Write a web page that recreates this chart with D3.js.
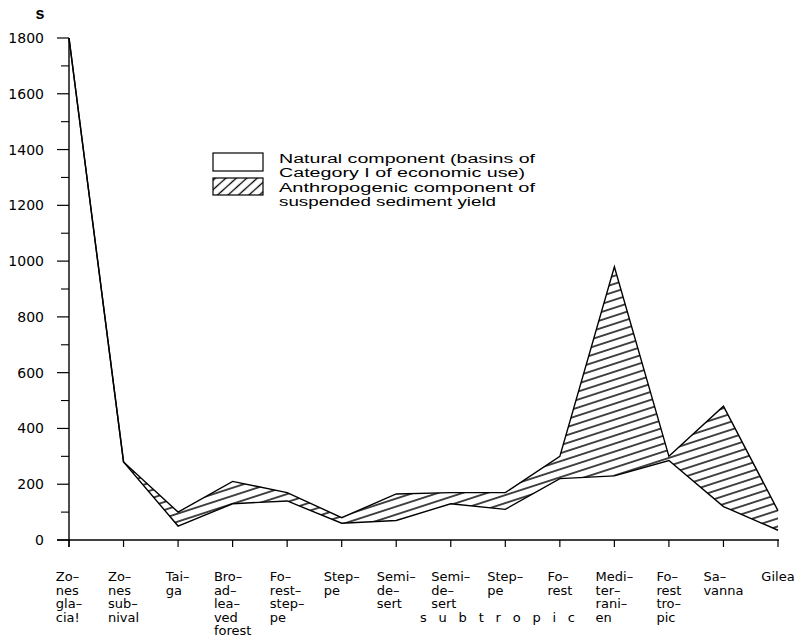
<!DOCTYPE html>
<html>
<head>
<meta charset="utf-8">
<script src="https://cdn.jsdelivr.net/npm/d3@7"></script>
<style>
  html, body { margin: 0; padding: 0; background: #fff; }
  svg { display: block; }
  text { fill: #000; }
</style>
</head>
<body>
<svg id="chart" width="810" height="643"></svg>
<script>
// Landscape zones (each label broken into hyphenated lines)
const zoneLabels = [
  ["Zo–", "nes", "gla–", "cia!"],
  ["Zo–", "nes", "sub–", "nival"],
  ["Tai–", "ga"],
  ["Bro–", "ad–", "lea–", "ved", "forest"],
  ["Fo–", "rest–", "step–", "pe"],
  ["Step–", "pe"],
  ["Semi–", "de–", "sert"],
  ["Semi–", "de–", "sert"],
  ["Step–", "pe"],
  ["Fo–", "rest"],
  ["Medi–", "ter–", "rani–", "en"],
  ["Fo–", "rest", "tro–", "pic"],
  ["Sa–", "vanna"],
  ["Gilea"]
];

// Suspended sediment yield: natural component and total (natural + anthropogenic)
const naturalYield = [1800, 280, 50, 130, 140, 60, 70, 130, 110, 220, 230, 285, 120, 35];
const totalYield   = [1800, 280, 100, 210, 170, 80, 165, 170, 170, 300, 980, 300, 480, 105];

const yMajorTicks = [0, 200, 400, 600, 800, 1000, 1200, 1400, 1600, 1800];
const yMinorTicks = [100, 300, 500, 700, 900, 1100, 1300, 1500, 1700];

const legendNatural = ["Natural component (basins of", "Category I of economic use)"];
const legendAnthro  = ["Anthropogenic component of", "suspended sediment yield"];
const groupLabel = "s u b t r o p i c";

const svg = d3.select("#chart");
const labelFont = "'DejaVu Sans', sans-serif";

const x = d3.scalePoint().domain(d3.range(zoneLabels.length)).range([69, 778]);
const y = d3.scaleLinear().domain([0, 1800]).range([540, 38]);

// Hatch patterns
const defs = svg.append("defs");
const hatch = defs.append("pattern")
  .attr("id", "hatch")
  .attr("patternUnits", "userSpaceOnUse")
  .attr("width", 40).attr("height", 7.6)
  .attr("patternTransform", "rotate(-18)");
hatch.append("line")
  .attr("x1", 0).attr("y1", 3.8).attr("x2", 40).attr("y2", 3.8)
  .attr("stroke", "#000").attr("stroke-width", 1.4);

const hatchLegend = defs.append("pattern")
  .attr("id", "hatchLegend")
  .attr("patternUnits", "userSpaceOnUse")
  .attr("width", 20).attr("height", 7)
  .attr("patternTransform", "rotate(-42)");
hatchLegend.append("line")
  .attr("x1", 0).attr("y1", 3.5).attr("x2", 20).attr("y2", 3.5)
  .attr("stroke", "#000").attr("stroke-width", 1.3);

// Anthropogenic band between the two curves
const band = d3.area()
  .x((d, i) => x(i))
  .y0((d, i) => y(naturalYield[i]))
  .y1((d, i) => y(totalYield[i]));
svg.append("path")
  .datum(totalYield)
  .attr("d", band)
  .attr("fill", "url(#hatch)")
  .attr("stroke", "none");

const line = d3.line().x((d, i) => x(i)).y(d => y(d));
[naturalYield, totalYield].forEach(series => {
  svg.append("path")
    .datum(series)
    .attr("d", line)
    .attr("fill", "none")
    .attr("stroke", "#000")
    .attr("stroke-width", 1.4)
    .attr("stroke-linejoin", "miter");
});

// Y axis
const yAxis = svg.append("g").attr("transform", "translate(69,0)");
yAxis.append("line")
  .attr("x1", 0).attr("x2", 0)
  .attr("y1", y(1800)).attr("y2", 547)
  .attr("stroke", "#000").attr("stroke-width", 1.4);
yAxis.selectAll(".major").data(yMajorTicks).join("line")
  .attr("x1", -12).attr("x2", 0)
  .attr("y1", d => y(d)).attr("y2", d => y(d))
  .attr("stroke", "#000").attr("stroke-width", 1.2);
yAxis.selectAll(".minor").data(yMinorTicks).join("line")
  .attr("x1", -8).attr("x2", 0)
  .attr("y1", d => y(d)).attr("y2", d => y(d))
  .attr("stroke", "#000").attr("stroke-width", 1.1);
yAxis.selectAll("text").data(yMajorTicks).join("text")
  .attr("x", -25)
  .attr("y", d => y(d))
  .attr("dy", "0.36em")
  .attr("text-anchor", "end")
  .style("font-family", labelFont)
  .style("font-size", "14px")
  .text(d => d);

svg.append("text")
  .attr("x", 40).attr("y", 19)
  .attr("text-anchor", "middle")
  .style("font-family", "'Liberation Sans', Arial, sans-serif")
  .style("font-size", "16px")
  .style("font-weight", "bold")
  .text("s");

// X axis
const xAxis = svg.append("g");
xAxis.append("line")
  .attr("x1", 57).attr("x2", 779)
  .attr("y1", 540).attr("y2", 540)
  .attr("stroke", "#000").attr("stroke-width", 1.4);
xAxis.selectAll(".tick").data(d3.range(zoneLabels.length)).join("line")
  .attr("x1", d => x(d)).attr("x2", d => x(d))
  .attr("y1", 540).attr("y2", 547)
  .attr("stroke", "#000").attr("stroke-width", 1.2);

// Zone labels: left-aligned blocks centred under their ticks
const lineGap = 13.5;
zoneLabels.forEach((lines, i) => {
  const t = svg.append("text")
    .style("font-family", labelFont)
    .style("font-size", "13px");
  lines.forEach((s, j) => {
    t.append("tspan").attr("x", 0).attr("y", 581 + j * lineGap).text(s);
  });
  const w = t.node().getBBox().width;
  t.attr("transform", `translate(${x(i) - w / 2},0)`);
});

svg.append("text")
  .attr("x", 420).attr("y", 581 + 3 * lineGap)
  .attr("textLength", 155)
  .attr("lengthAdjust", "spacing")
  .style("font-family", labelFont)
  .style("font-size", "13px")
  .text(groupLabel);

// Legend
const legend = svg.append("g");
legend.append("rect")
  .attr("x", 213).attr("y", 153).attr("width", 50).attr("height", 18)
  .attr("fill", "#fff").attr("stroke", "#000").attr("stroke-width", 1.2);
legend.append("rect")
  .attr("x", 213).attr("y", 178).attr("width", 50).attr("height", 17)
  .attr("fill", "url(#hatchLegend)").attr("stroke", "#000").attr("stroke-width", 1.2);

const legendFont = "'Liberation Sans', Arial, sans-serif";
const legendEntries = [
  { lines: legendNatural, y: [162.5, 176.5], w: [256, 246] },
  { lines: legendAnthro, y: [192, 206], w: [256, 217] }
];
legendEntries.forEach(entry => {
  const t = legend.append("text")
    .style("font-family", legendFont)
    .style("font-size", "12.5px");
  entry.lines.forEach((s, j) => {
    t.append("tspan")
      .attr("x", 279).attr("y", entry.y[j])
      .attr("textLength", entry.w[j])
      .attr("lengthAdjust", "spacingAndGlyphs")
      .text(s);
  });
});
</script>
</body>
</html>
